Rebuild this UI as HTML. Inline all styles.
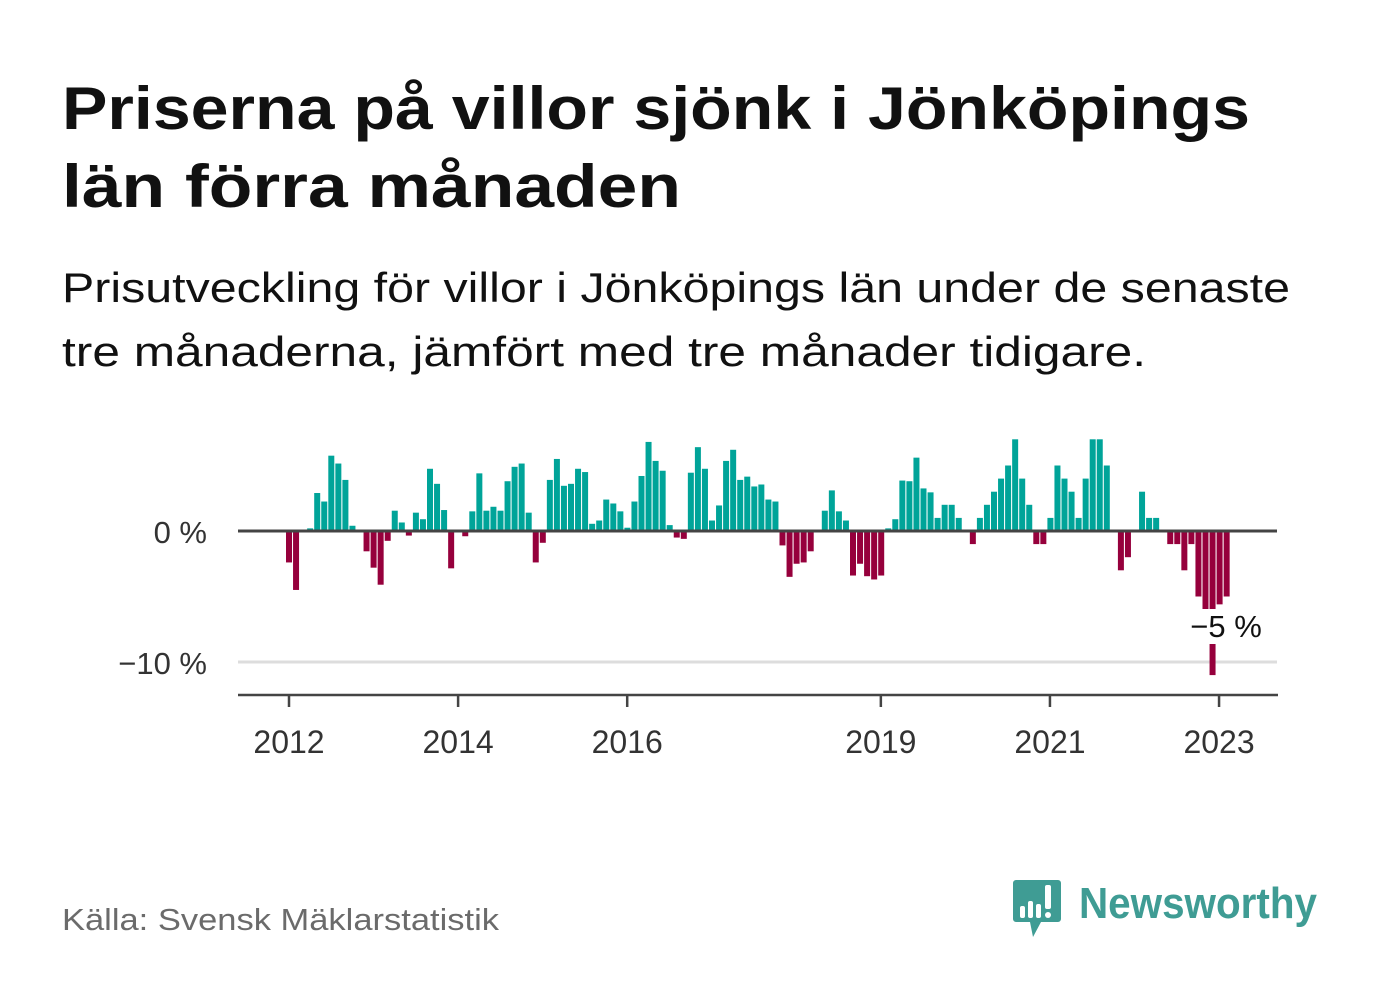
<!DOCTYPE html>
<html><head><meta charset="utf-8"><style>
html,body{margin:0;padding:0;background:#fff;}
svg{display:block;font-family:"Liberation Sans",sans-serif;}
</style></head><body>
<svg id="chart" width="1382" height="999" viewBox="0 0 1382 999">
<text x="62" y="129" font-size="60" font-weight="bold" fill="#111" textLength="1188" lengthAdjust="spacingAndGlyphs">Priserna på villor sjönk i Jönköpings</text>
<text x="62" y="207" font-size="60" font-weight="bold" fill="#111" textLength="619" lengthAdjust="spacingAndGlyphs">län förra månaden</text>
<text x="62" y="302" font-size="42" fill="#111" textLength="1228" lengthAdjust="spacingAndGlyphs">Prisutveckling för villor i Jönköpings län under de senaste</text>
<text x="62" y="366" font-size="42" fill="#111" textLength="1084" lengthAdjust="spacingAndGlyphs">tre månaderna, jämfört med tre månader tidigare.</text>
<g id="plot"></g>
<text x="62" y="930" font-size="31" fill="#6b6b6b" textLength="437" lengthAdjust="spacingAndGlyphs">Källa: Svensk Mäklarstatistik</text>
<g>
<path d="M1016 880 h42 a3 3 0 0 1 3 3 v36 a3 3 0 0 1 -3 3 h-17 l-8 15 l-3 -15 h-14 a3 3 0 0 1 -3 -3 v-36 a3 3 0 0 1 3 -3z" fill="#3f9c94"/>
<rect x="1020" y="906" width="5" height="12" rx="2" fill="#fff"/>
<rect x="1028" y="901" width="5" height="17" rx="2" fill="#fff"/>
<rect x="1036" y="904" width="5" height="14" rx="2" fill="#fff"/>
<rect x="1045" y="885" width="6" height="24" rx="2" fill="#fff"/>
<circle cx="1048" cy="915" r="3" fill="#fff"/>
<text x="1079" y="918" font-size="44" font-weight="bold" fill="#3f9c94" textLength="238" lengthAdjust="spacingAndGlyphs">Newsworthy</text>
</g>
</svg>
<script>
const startYear = 2012;
const values = [-2.4,-4.5,0,0.2,2.9,2.25,5.75,5.15,3.9,0.4,0,-1.55,-2.8,-4.1,-0.75,1.55,0.65,-0.35,1.4,0.9,4.75,3.6,1.6,-2.85,0,-0.4,1.5,4.4,1.55,1.85,1.55,3.8,
4.9,5.15,1.4,-2.4,-0.9,3.9,5.5,3.45,3.6,4.75,4.5,0.55,0.8,2.4,2.1,1.5,0.25,2.25,4.2,6.8,5.35,4.6,0.45,-0.5,-0.6,4.45,6.4,4.75,0.8,1.95,5.35,6.2,3.9,4.15,3.4,3.55,2.4,
2.25,-1.1,-3.5,-2.5,-2.4,-1.55,0,1.55,3.1,1.5,0.8,-3.4,-2.5,-3.45,-3.7,-3.4,0.2,0.9,3.85,3.8,5.6,3.25,2.95,1,2,2,1,0,-1,1,2,3,4,5,7,4,2,
-1,-1,1,5,4,3,1,4,7,7,5,0,-3,-2,0,3,1,1,0,-1,-1,-3,-1,-5,-6,-11,-5.6,-5];
const yTicks = [0,-10];
const yTickLabels = ["0 %","\u221210 %"];
const xTickYears = [2012,2014,2016,2019,2021,2023];
const lastLabel = "\u22125 %";

const NS="http://www.w3.org/2000/svg";
const g=document.getElementById('plot');
const x0=286, pitch=7.05, bw=6;
const zeroY=531, pxPer=13.1;
function yScale(v){return zeroY - v*pxPer;}
function xBar(i){return x0 + i*pitch;}
function xYear(y){return 289 + (y-startYear)*84.55;}
function mk(tag,attrs){const e=document.createElementNS(NS,tag);for(const k in attrs)e.setAttribute(k,attrs[k]);g.appendChild(e);return e;}

yTicks.forEach((t,i)=>{
  if(t!==0){
    const l=mk('line',{x1:238,x2:1277,y1:yScale(t),y2:yScale(t),stroke:'#dddddd','stroke-width':3});
    
    
  }
  const tx=mk('text',{x:207,y:yScale(t)+12,'font-size':31,fill:'#333','text-anchor':'end'});
  tx.textContent=yTickLabels[i];
  
  
});

values.forEach((v,i)=>{
  const y1=yScale(Math.max(v,0)), y2=yScale(Math.min(v,0));
  const r=mk('rect',{x:xBar(i),y:y1,width:bw,height:Math.max(0,y2-y1),fill:v>=0?'#00a499':'#96003c'});
  
  
});

const zl=mk('line',{x1:238,x2:1277,y1:zeroY,y2:zeroY,stroke:'#444','stroke-width':3});



const ax=mk('line',{x1:238,x2:1278,y1:695,y2:695,stroke:'#444','stroke-width':2.5});



xTickYears.forEach(y=>{
  const t=mk('line',{x1:xYear(y),x2:xYear(y),y1:695,y2:707,stroke:'#444','stroke-width':2.5});
  
  
  const tx=mk('text',{x:xYear(y),y:753,'font-size':32,fill:'#333','text-anchor':'middle'});
  tx.textContent=String(y);
  
  
});

const bg=mk('rect',{x:1184,y:609,width:86,height:35,rx:5,fill:'#fff'});


const lbl=mk('text',{x:1226,y:637,'font-size':31,fill:'#111','text-anchor':'middle'});
lbl.textContent=lastLabel;


</script>
</body></html>
